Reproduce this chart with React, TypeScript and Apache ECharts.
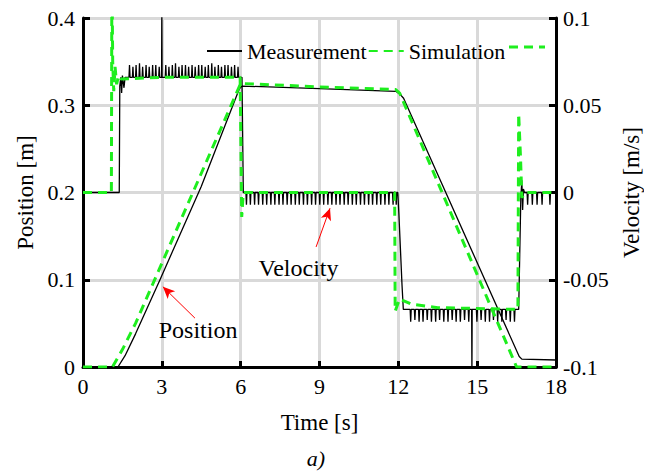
import React, { useEffect, useRef } from "react";
import * as echarts from "echarts";

const xTicks = { min: 0, max: 18, interval: 3 };
const posAxis = { min: 0, max: 0.4, interval: 0.1 };
const velAxis = { min: -0.1, max: 0.1, interval: 0.05 };

const seriesNames = ["Measurement", "Simulation"];

// Position [m] vs time [s]
const posMeasured: number[][] = [
  [0, 0], [1.33, 0], [1.6, 0.013], [2.0, 0.038], [2.93, 0.1], [4.5, 0.207],
  [5.95, 0.319], [6.05, 0.322], [9, 0.319], [11.9, 0.316], [12.05, 0.313],
  [12.2, 0.308], [16.6, 0.012], [16.7, 0.009], [18, 0.008],
];
const posSimulated: number[][] = [
  [0, 0], [1.12, 0], [1.5, 0.02], [2.0, 0.05], [6.0, 0.325], [9, 0.321],
  [11.9, 0.318], [12.05, 0.314], [16.5, 0], [18, 0],
];

// Velocity [m/s] vs time [s]
const velMeasured: number[][] = [
  [0, 0], [1.38, 0], [1.4, 0.061], [1.44, 0.066], [1.47, 0.057], [1.5, 0.067], [1.56, 0.06], [1.6, 0.066],
  [1.75, 0.066], [1.77, 0.073], [1.79, 0.066], [1.88, 0.066], [1.9, 0.072], [1.92, 0.066],
  [2.0, 0.066], [2.02, 0.073], [2.04, 0.066], [2.13, 0.066], [2.15, 0.074], [2.17, 0.066],
  [2.25, 0.066], [2.27, 0.072], [2.29, 0.066], [2.38, 0.066], [2.4, 0.073], [2.42, 0.066],
  [2.5, 0.066], [2.52, 0.072], [2.54, 0.066], [2.63, 0.066], [2.65, 0.073], [2.67, 0.066],
  [2.75, 0.066], [2.77, 0.073], [2.79, 0.066], [2.88, 0.066], [2.9, 0.072], [2.92, 0.066],
  [2.99, 0.066], [3.0, 0.105], [3.01, 0.066], [3.13, 0.066], [3.15, 0.073], [3.17, 0.066],
  [3.25, 0.066], [3.27, 0.072], [3.29, 0.066], [3.38, 0.066], [3.4, 0.073], [3.42, 0.066],
  [3.5, 0.066], [3.52, 0.074], [3.54, 0.066], [3.63, 0.066], [3.65, 0.072], [3.67, 0.066],
  [3.75, 0.066], [3.77, 0.073], [3.79, 0.066], [3.88, 0.066], [3.9, 0.073], [3.92, 0.066],
  [4.0, 0.066], [4.02, 0.072], [4.04, 0.066], [4.13, 0.066], [4.15, 0.073], [4.17, 0.066],
  [4.25, 0.066], [4.27, 0.072], [4.29, 0.066], [4.38, 0.066], [4.4, 0.073], [4.42, 0.066],
  [4.5, 0.066], [4.52, 0.073], [4.54, 0.066], [4.63, 0.066], [4.65, 0.072], [4.67, 0.066],
  [4.75, 0.066], [4.77, 0.073], [4.79, 0.066], [4.88, 0.066], [4.9, 0.074], [4.92, 0.066],
  [5.0, 0.066], [5.02, 0.072], [5.04, 0.066], [5.13, 0.066], [5.15, 0.073], [5.17, 0.066],
  [5.25, 0.066], [5.27, 0.072], [5.29, 0.066], [5.38, 0.066], [5.4, 0.073], [5.42, 0.066],
  [5.5, 0.066], [5.52, 0.073], [5.54, 0.066], [5.63, 0.066], [5.65, 0.072], [5.67, 0.066],
  [5.75, 0.066], [5.77, 0.073], [5.79, 0.066], [5.88, 0.066], [5.9, 0.072], [5.92, 0.066],
  [6.05, 0.066], [6.1, 0],
  [6.2, 0], [6.22, -0.007], [6.24, 0], [6.35, 0], [6.37, -0.007], [6.39, 0],
  [6.51, 0], [6.53, -0.007], [6.55, 0], [6.66, 0], [6.68, -0.007], [6.7, 0],
  [6.82, 0], [6.84, -0.007], [6.86, 0], [6.97, 0], [6.99, -0.007], [7.01, 0],
  [7.13, 0], [7.15, -0.007], [7.17, 0], [7.28, 0], [7.3, -0.007], [7.32, 0],
  [7.44, 0], [7.46, -0.007], [7.48, 0], [7.59, 0], [7.61, -0.007], [7.63, 0],
  [7.75, 0], [7.77, -0.007], [7.79, 0], [7.9, 0], [7.92, -0.007], [7.94, 0],
  [8.06, 0], [8.08, -0.007], [8.1, 0], [8.21, 0], [8.23, -0.007], [8.25, 0],
  [8.37, 0], [8.39, -0.007], [8.41, 0], [8.52, 0], [8.54, -0.007], [8.56, 0],
  [8.68, 0], [8.7, -0.007], [8.72, 0], [8.83, 0], [8.85, -0.007], [8.87, 0],
  [8.99, 0], [9.01, -0.007], [9.03, 0], [9.14, 0], [9.16, -0.007], [9.18, 0],
  [9.3, 0], [9.32, -0.007], [9.34, 0], [9.45, 0], [9.47, -0.007], [9.49, 0],
  [9.61, 0], [9.63, -0.007], [9.65, 0], [9.76, 0], [9.78, -0.007], [9.8, 0],
  [9.92, 0], [9.94, -0.007], [9.96, 0], [10.07, 0], [10.09, -0.007], [10.11, 0],
  [10.23, 0], [10.25, -0.007], [10.27, 0], [10.38, 0], [10.4, -0.007], [10.42, 0],
  [10.54, 0], [10.56, -0.007], [10.58, 0], [10.69, 0], [10.71, -0.007], [10.73, 0],
  [10.85, 0], [10.87, -0.007], [10.89, 0], [11.0, 0], [11.02, -0.007], [11.04, 0],
  [11.16, 0], [11.18, -0.007], [11.2, 0], [11.31, 0], [11.33, -0.007], [11.35, 0],
  [11.47, 0], [11.49, -0.007], [11.51, 0], [11.62, 0], [11.64, -0.007], [11.66, 0],
  [11.78, 0], [11.8, -0.007], [11.82, 0], [11.9, 0], [11.92, -0.007], [11.94, 0],
  [11.98, 0], [12.02, -0.012], [12.14, -0.053], [12.19, -0.067],
  [12.45, -0.067], [12.47, -0.074], [12.49, -0.067], [12.61, -0.067], [12.63, -0.073], [12.65, -0.067],
  [12.77, -0.067], [12.79, -0.074], [12.81, -0.067], [12.92, -0.067], [12.94, -0.074], [12.96, -0.067],
  [13.08, -0.067], [13.1, -0.073], [13.12, -0.067], [13.24, -0.067], [13.26, -0.074], [13.28, -0.067],
  [13.4, -0.067], [13.42, -0.074], [13.44, -0.067], [13.55, -0.067], [13.57, -0.073], [13.59, -0.067],
  [13.71, -0.067], [13.73, -0.074], [13.75, -0.067], [13.87, -0.067], [13.89, -0.074], [13.91, -0.067],
  [14.03, -0.067], [14.05, -0.073], [14.07, -0.067], [14.18, -0.067], [14.2, -0.074], [14.22, -0.067],
  [14.34, -0.067], [14.36, -0.074], [14.38, -0.067], [14.5, -0.067], [14.52, -0.073], [14.54, -0.067],
  [14.66, -0.067], [14.68, -0.074], [14.7, -0.067], [14.79, -0.067], [14.8, -0.105], [14.81, -0.067],
  [14.97, -0.067], [14.99, -0.074], [15.01, -0.067], [15.13, -0.067], [15.15, -0.073], [15.17, -0.067],
  [15.29, -0.067], [15.31, -0.074], [15.33, -0.067], [15.45, -0.067], [15.47, -0.074], [15.49, -0.067],
  [15.6, -0.067], [15.62, -0.073], [15.64, -0.067], [15.76, -0.067], [15.78, -0.074], [15.8, -0.067],
  [15.92, -0.067], [15.94, -0.074], [15.96, -0.067], [16.08, -0.067], [16.1, -0.073], [16.12, -0.067],
  [16.24, -0.067], [16.26, -0.074], [16.28, -0.067], [16.4, -0.067], [16.42, -0.074], [16.44, -0.067],
  [16.58, -0.067], [16.66, -0.004], [16.7, 0.007], [16.73, -0.01], [16.76, 0.002], [16.8, 0],
  [16.9, 0], [16.92, -0.007], [16.94, 0], [17.08, 0], [17.1, -0.007], [17.12, 0],
  [17.26, 0], [17.28, -0.007], [17.3, 0], [17.45, 0], [17.47, -0.007], [17.49, 0],
  [17.75, 0], [17.77, -0.007], [17.79, 0], [18, 0],
];
const velSimulated: number[][] = [
  [0, 0], [1.08, 0], [1.1, 0.13], [1.13, 0.075], [1.17, 0.058], [1.22, 0.072], [1.28, 0.062],
  [1.35, 0.067], [1.45, 0.065], [3, 0.066], [5.98, 0.066], [6.04, -0.014], [6.1, 0],
  [11.86, 0], [11.88, -0.068], [12.05, -0.061], [12.5, -0.064], [13.5, -0.066], [16.55, -0.067],
  [16.58, 0.045], [16.65, 0.02], [16.7, -0.003], [16.8, 0], [18, 0],
];

// Annotations (data coordinates on the position axis)
const velocityArrow = [[8.87, 0.1376], [9.4, 0.182]];
const positionArrow = [[4.26, 0.056], [3.04, 0.092]];
const velocityLabel = [8.2, 0.113];
const positionLabel = [4.38, 0.042];

const FONT = "Liberation Serif";
const GREEN = "#1eee1e";

export default function App() {
  const ref = useRef<HTMLDivElement>(null);
  useEffect(() => {
    if (!ref.current) return;
    const chart = echarts.init(ref.current, undefined, { renderer: "svg" });
    const axisLine = { show: true, lineStyle: { color: "#000", width: 3 } };
    const axisTick = { show: true, inside: true, length: 7, lineStyle: { color: "#000", width: 3 } };
    const splitLine = { show: true, lineStyle: { color: "#d9d9d9", width: 3 } };
    const tickRich = { t: { color: "#000", fontFamily: FONT, fontSize: 22 } };
    const label = {
      color: "#000",
      fontFamily: FONT,
      fontSize: 22,
      formatter: (v: number) => "{t|" + String(Math.round(v * 1000) / 1000) + "}",
      rich: tickRich,
    };
    const nameStyle = { color: "#000", fontFamily: FONT, fontSize: 23 };
    chart.setOption({
      animation: false,
      backgroundColor: "#fff",
      textStyle: { fontFamily: FONT },
      grid: { left: 83, right: 96, top: 18, bottom: 108 },
      legend: {
        data: seriesNames,
        left: 201,
        top: 35,
        itemWidth: 35,
        itemHeight: 14,
        itemGap: 1,
        itemStyle: { opacity: 0 },
        textStyle: { color: "#000", fontFamily: FONT, fontSize: 22 },
      },
      xAxis: {
        type: "value",
        ...xTicks,
        name: "Time [s]",
        nameLocation: "middle",
        nameGap: 44,
        nameTextStyle: nameStyle,
        axisLine,
        axisTick: { ...axisTick, length: 6 },
        splitLine,
        axisLabel: { ...label, margin: 8 },
      },
      yAxis: [
        {
          type: "value",
          ...posAxis,
          name: "Position [m]",
          nameLocation: "middle",
          nameRotate: 90,
          nameGap: 43,
          nameTextStyle: nameStyle,
          axisLine,
          axisTick,
          splitLine,
          axisLabel: { ...label, margin: 8 },
        },
        {
          type: "value",
          ...velAxis,
          position: "right",
          name: "Velocity [m/s]",
          nameLocation: "middle",
          nameRotate: 90,
          nameGap: 55,
          nameTextStyle: nameStyle,
          axisLine,
          axisTick,
          splitLine: { show: false },
          axisLabel: { ...label, margin: 7 },
        },
      ],
      series: [
        {
          name: seriesNames[0],
          type: "line",
          yAxisIndex: 0,
          data: posMeasured,
          symbol: "none",
          lineStyle: { color: "#000", width: 1.3 },
          itemStyle: { color: "#000" },
        },
        {
          name: seriesNames[0],
          type: "line",
          yAxisIndex: 1,
          data: velMeasured,
          symbol: "none",
          lineStyle: { color: "#000", width: 1.3 },
          itemStyle: { color: "#000" },
        },
        {
          name: seriesNames[1],
          type: "line",
          yAxisIndex: 0,
          data: posSimulated,
          symbol: "none",
          lineStyle: { color: GREEN, width: 3, type: [9, 6] },
          itemStyle: { color: GREEN },
        },
        {
          name: seriesNames[1],
          type: "line",
          yAxisIndex: 1,
          data: velSimulated,
          symbol: "none",
          lineStyle: { color: GREEN, width: 3, type: [9, 6] },
          itemStyle: { color: GREEN },
        },
        {
          name: "annotations",
          type: "line",
          yAxisIndex: 0,
          data: [],
          symbol: "none",
          silent: true,
          markLine: {
            silent: true,
            symbol: ["none", "arrow"],
            symbolSize: [8, 12],
            label: { show: false },
            lineStyle: { color: "#ff0000", width: 1, type: "solid" },
            data: [
              [{ coord: velocityArrow[0] }, { coord: velocityArrow[1] }],
              [{ coord: positionArrow[0] }, { coord: positionArrow[1] }],
            ],
          },
          markPoint: {
            silent: true,
            symbol: "circle",
            symbolSize: 1,
            itemStyle: { color: "rgba(0,0,0,0)" },
            label: { show: true, position: "inside", color: "#000", fontFamily: FONT, fontSize: 24 },
            data: [
              { coord: velocityLabel, label: { formatter: "Velocity" } },
              { coord: positionLabel, label: { formatter: "Position" } },
            ],
          },
        },
      ],
      graphic: [
        {
          type: "line",
          shape: { x1: 509, y1: 47, x2: 545, y2: 47 },
          style: { stroke: GREEN, lineWidth: 3, lineDash: [9, 6] },
        },
        {
          type: "text",
          x: 316,
          y: 458,
          style: {
            text: "a)",
            fontFamily: FONT,
            fontSize: 22,
            fontStyle: "italic",
            fill: "#000",
            textAlign: "center",
            textVerticalAlign: "middle",
          },
        },
      ],
    });
    ref.current.querySelectorAll("text").forEach((t) => {
      (t as SVGTextElement).style.setProperty("font-family", "'Liberation Serif', serif", "important");
    });
    return () => chart.dispose();
  }, []);
  return (
    <div style={{ margin: "-8px 0 0 -8px", width: 652, height: 475, position: "relative" }}>
      <style>{`.chart-host text { font-family: "Liberation Serif", "Times New Roman", serif !important; }`}</style>
      <div className="chart-host" ref={ref} style={{ width: 652, height: 475, background: "#fff" }} />
    </div>
  );
}
